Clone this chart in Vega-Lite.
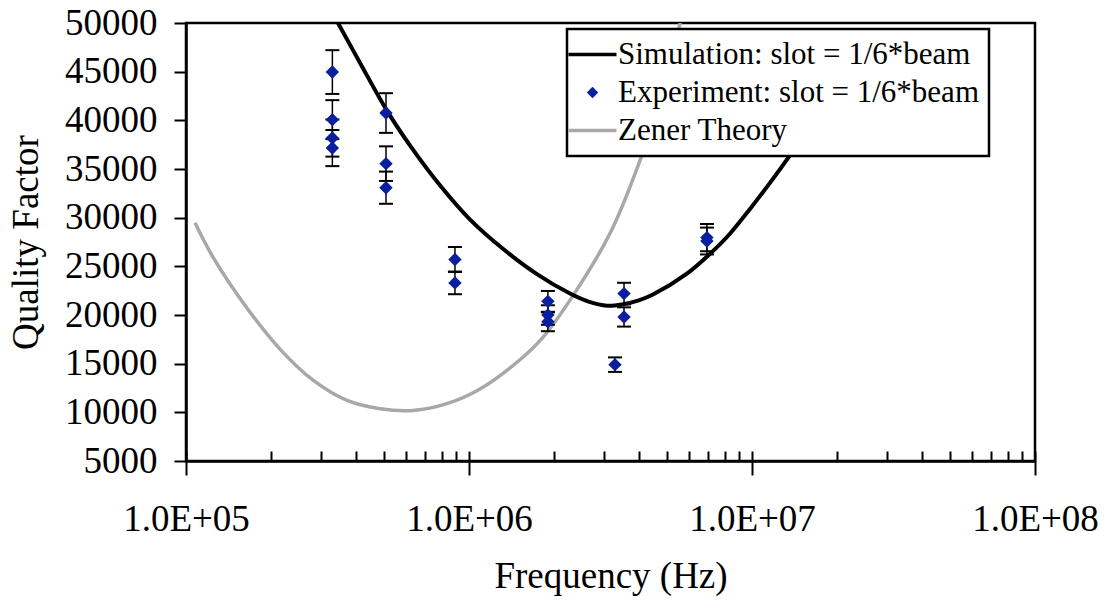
{
  "$schema": "https://vega.github.io/schema/vega-lite/v6.json",
  "width": 849,
  "height": 438,
  "autosize": {"type": "none"},
  "padding": {"left": 186, "top": 23, "right": 73, "bottom": 139},
  "background": "white",
  "config": {
    "font": "Liberation Serif",
    "view": {"stroke": "black", "strokeWidth": 2.5},
    "axis": {
      "labelFont": "Liberation Serif",
      "labelFontSize": 37,
      "labelColor": "black",
      "titleFont": "Liberation Serif",
      "titleFontSize": 37,
      "titleFontWeight": "normal",
      "titleColor": "black",
      "domainColor": "black",
      "domainWidth": 2.5,
      "tickColor": "black",
      "tickWidth": 2,
      "grid": false
    }
  },
  "datasets": {
    "curves": [
      {"series": "Simulation: slot = 1/6*beam", "f": 322800, "q": 51500},
      {"series": "Simulation: slot = 1/6*beam", "f": 344400, "q": 50000},
      {"series": "Simulation: slot = 1/6*beam", "f": 412100, "q": 45900},
      {"series": "Simulation: slot = 1/6*beam", "f": 512900, "q": 41000},
      {"series": "Simulation: slot = 1/6*beam", "f": 619400, "q": 37400},
      {"series": "Simulation: slot = 1/6*beam", "f": 790700, "q": 33300},
      {"series": "Simulation: slot = 1/6*beam", "f": 1009000, "q": 29800},
      {"series": "Simulation: slot = 1/6*beam", "f": 1318000, "q": 26800},
      {"series": "Simulation: slot = 1/6*beam", "f": 1738000, "q": 24200},
      {"series": "Simulation: slot = 1/6*beam", "f": 2275000, "q": 22200},
      {"series": "Simulation: slot = 1/6*beam", "f": 2630000, "q": 21400},
      {"series": "Simulation: slot = 1/6*beam", "f": 3076000, "q": 20950},
      {"series": "Simulation: slot = 1/6*beam", "f": 3499000, "q": 21100},
      {"series": "Simulation: slot = 1/6*beam", "f": 3981000, "q": 21500},
      {"series": "Simulation: slot = 1/6*beam", "f": 4467000, "q": 22100},
      {"series": "Simulation: slot = 1/6*beam", "f": 5888000, "q": 24250},
      {"series": "Simulation: slot = 1/6*beam", "f": 7112000, "q": 26300},
      {"series": "Simulation: slot = 1/6*beam", "f": 8356000, "q": 28350},
      {"series": "Simulation: slot = 1/6*beam", "f": 9840000, "q": 30900},
      {"series": "Simulation: slot = 1/6*beam", "f": 11590000, "q": 33600},
      {"series": "Simulation: slot = 1/6*beam", "f": 13610000, "q": 36400},
      {"series": "Simulation: slot = 1/6*beam", "f": 15850000, "q": 39300},
      {"series": "Simulation: slot = 1/6*beam", "f": 18620000, "q": 42500},
      {"series": "Simulation: slot = 1/6*beam", "f": 21880000, "q": 45800},
      {"series": "Zener Theory", "f": 107600, "q": 29470},
      {"series": "Zener Theory", "f": 124500, "q": 25950},
      {"series": "Zener Theory", "f": 164400, "q": 20700},
      {"series": "Zener Theory", "f": 214800, "q": 16500},
      {"series": "Zener Theory", "f": 281200, "q": 13300},
      {"series": "Zener Theory", "f": 370700, "q": 11220},
      {"series": "Zener Theory", "f": 485300, "q": 10370},
      {"series": "Zener Theory", "f": 633900, "q": 10200},
      {"series": "Zener Theory", "f": 835600, "q": 10890},
      {"series": "Zener Theory", "f": 1094000, "q": 12400},
      {"series": "Zener Theory", "f": 1514000, "q": 15400},
      {"series": "Zener Theory", "f": 1824000, "q": 17700},
      {"series": "Zener Theory", "f": 2312000, "q": 21840},
      {"series": "Zener Theory", "f": 3148000, "q": 28370},
      {"series": "Zener Theory", "f": 4018000, "q": 35870},
      {"series": "Zener Theory", "f": 4732000, "q": 42200},
      {"series": "Zener Theory", "f": 5572000, "q": 50000},
      {"series": "Zener Theory", "f": 5998000, "q": 54000}
    ],
    "points": [
      {"series": "Experiment: slot = 1/6*beam", "f": 329000, "q": 44960, "lo": 42712, "hi": 47208},
      {"series": "Experiment: slot = 1/6*beam", "f": 329000, "q": 40070, "lo": 38067, "hi": 42074},
      {"series": "Experiment: slot = 1/6*beam", "f": 329000, "q": 38180, "lo": 36271, "hi": 40089},
      {"series": "Experiment: slot = 1/6*beam", "f": 329000, "q": 37150, "lo": 35293, "hi": 39008},
      {"series": "Experiment: slot = 1/6*beam", "f": 509000, "q": 40750, "lo": 38713, "hi": 42788},
      {"series": "Experiment: slot = 1/6*beam", "f": 509000, "q": 35550, "lo": 33773, "hi": 37328},
      {"series": "Experiment: slot = 1/6*beam", "f": 509000, "q": 33080, "lo": 31426, "hi": 34734},
      {"series": "Experiment: slot = 1/6*beam", "f": 892000, "q": 25700, "lo": 24415, "hi": 26985},
      {"series": "Experiment: slot = 1/6*beam", "f": 892000, "q": 23300, "lo": 22135, "hi": 24465},
      {"series": "Experiment: slot = 1/6*beam", "f": 1900000, "q": 21400, "lo": 20330, "hi": 22470},
      {"series": "Experiment: slot = 1/6*beam", "f": 1900000, "q": 20000, "lo": 19000, "hi": 21000},
      {"series": "Experiment: slot = 1/6*beam", "f": 1900000, "q": 19300, "lo": 18335, "hi": 20265},
      {"series": "Experiment: slot = 1/6*beam", "f": 3280000, "q": 14900, "lo": 14155, "hi": 15645},
      {"series": "Experiment: slot = 1/6*beam", "f": 3530000, "q": 22200, "lo": 21090, "hi": 23310},
      {"series": "Experiment: slot = 1/6*beam", "f": 3530000, "q": 19800, "lo": 18810, "hi": 20790},
      {"series": "Experiment: slot = 1/6*beam", "f": 6930000, "q": 27950, "lo": 26553, "hi": 29348},
      {"series": "Experiment: slot = 1/6*beam", "f": 6930000, "q": 27600, "lo": 26220, "hi": 28980}
    ]
  },
  "resolve": {"axis": {"x": "independent"}},
  "layer": [
    {
      "data": {"name": "curves"},
      "transform": [{"filter": "datum.series === 'Zener Theory'"}],
      "mark": {"type": "line", "strokeWidth": 3.5, "clip": true, "interpolate": "catmull-rom"},
      "encoding": {
        "x": {
          "field": "f", "type": "quantitative",
          "scale": {"type": "log", "domain": [100000, 100000000], "nice": false},
          "axis": {
            "orient": "bottom",
            "title": "Frequency (Hz)",
            "values": [100000, 1000000, 10000000, 100000000],
            "labelExpr": "'1.0E+0' + round(log(datum.value)/LN10)",
            "tickSize": 14,
            "labelPadding": 26,
            "titlePadding": 21,
            "labelFlush": false,
            "labelOverlap": false
          }
        },
        "y": {
          "field": "q", "type": "quantitative",
          "scale": {"domain": [5000, 50000], "nice": false, "zero": false},
          "axis": {
            "title": "Quality Factor",
            "values": [5000, 10000, 15000, 20000, 25000, 30000, 35000, 40000, 45000, 50000],
            "format": "d",
            "tickSize": 12,
            "labelPadding": 17,
            "titlePadding": 19,
            "labelOverlap": false,
            "labelFlush": false
          }
        },
        "color": {
          "field": "series", "type": "nominal",
          "scale": {
            "domain": ["Simulation: slot = 1/6*beam", "Experiment: slot = 1/6*beam", "Zener Theory"],
            "range": ["black", "#0a1f9e", "#a8a8a8"]
          },
          "legend": {
            "title": null,
            "orient": "none",
            "legendX": 381,
            "legendY": 6,
            "padding": 10,
            "labelOffset": 10,
            "rowPadding": 6,
            "labelFont": "Liberation Serif",
            "labelFontSize": 31,
            "labelColor": "black",
            "labelLimit": 800,
            "labelExpr": "datum.label + '\u00a0\u00a0\u00a0\u00a0\u00a0\u00a0\u00a0\u00a0\u00a0\u00a0\u00a0'",
            "strokeColor": "black",
            "fillColor": "white",
            "symbolType": "stroke",
            "symbolSize": 2304,
            "symbolStrokeWidth": 3.5,
            "encode": {
              "legend": {
                "update": {
                  "strokeWidth": {"value": 2.5}
                }
              },
              "symbols": {
                "update": {
                  "shape": {"signal": "datum.value === 'Experiment: slot = 1/6*beam' ? 'diamond' : 'stroke'"},
                  "size": {"signal": "datum.value === 'Experiment: slot = 1/6*beam' ? 130 : 2304"},
                  "fill": {"signal": "datum.value === 'Experiment: slot = 1/6*beam' ? '#0a1f9e' : 'transparent'"},
                  "stroke": {"signal": "datum.value === 'Zener Theory' ? '#a8a8a8' : (datum.value === 'Experiment: slot = 1/6*beam' ? 'transparent' : 'black')"},
                  "strokeWidth": {"signal": "datum.value === 'Experiment: slot = 1/6*beam' ? 0 : 3.5"},
                  "opacity": {"value": 1}
                }
              }
            }
          }
        }
      }
    },
    {
      "data": {"name": "curves"},
      "transform": [{"filter": "datum.series === 'Simulation: slot = 1/6*beam'"}],
      "mark": {"type": "line", "strokeWidth": 4, "clip": true, "interpolate": "catmull-rom"},
      "encoding": {
        "x": {
          "field": "f", "type": "quantitative",
          "axis": {
            "orient": "bottom",
            "title": null,
            "labels": false,
            "domain": false,
            "values": [100000, 200000, 300000, 400000, 500000, 600000, 700000, 800000, 900000, 1000000, 2000000, 3000000, 4000000, 5000000, 6000000, 7000000, 8000000, 9000000, 10000000, 20000000, 30000000, 40000000, 50000000, 60000000, 70000000, 80000000, 90000000, 100000000],
            "tickSize": -10
          }
        },
        "y": {"field": "q", "type": "quantitative"},
        "color": {"field": "series", "type": "nominal"}
      }
    },
    {
      "data": {"name": "points"},
      "mark": {"type": "rule", "strokeWidth": 1.5, "color": "black"},
      "encoding": {
        "x": {"field": "f", "type": "quantitative", "axis": null},
        "y": {"field": "lo", "type": "quantitative"},
        "y2": {"field": "hi"}
      }
    },
    {
      "data": {"name": "points"},
      "mark": {"type": "tick", "orient": "horizontal", "size": 14, "thickness": 2, "color": "black", "opacity": 1},
      "encoding": {
        "x": {"field": "f", "type": "quantitative", "axis": null},
        "y": {"field": "lo", "type": "quantitative"}
      }
    },
    {
      "data": {"name": "points"},
      "mark": {"type": "tick", "orient": "horizontal", "size": 14, "thickness": 2, "color": "black", "opacity": 1},
      "encoding": {
        "x": {"field": "f", "type": "quantitative", "axis": null},
        "y": {"field": "hi", "type": "quantitative"}
      }
    },
    {
      "data": {"name": "points"},
      "mark": {"type": "point", "shape": "diamond", "filled": true, "size": 180, "opacity": 1},
      "encoding": {
        "x": {"field": "f", "type": "quantitative", "axis": null},
        "y": {"field": "q", "type": "quantitative"},
        "color": {"field": "series", "type": "nominal"}
      }
    }
  ]
}
